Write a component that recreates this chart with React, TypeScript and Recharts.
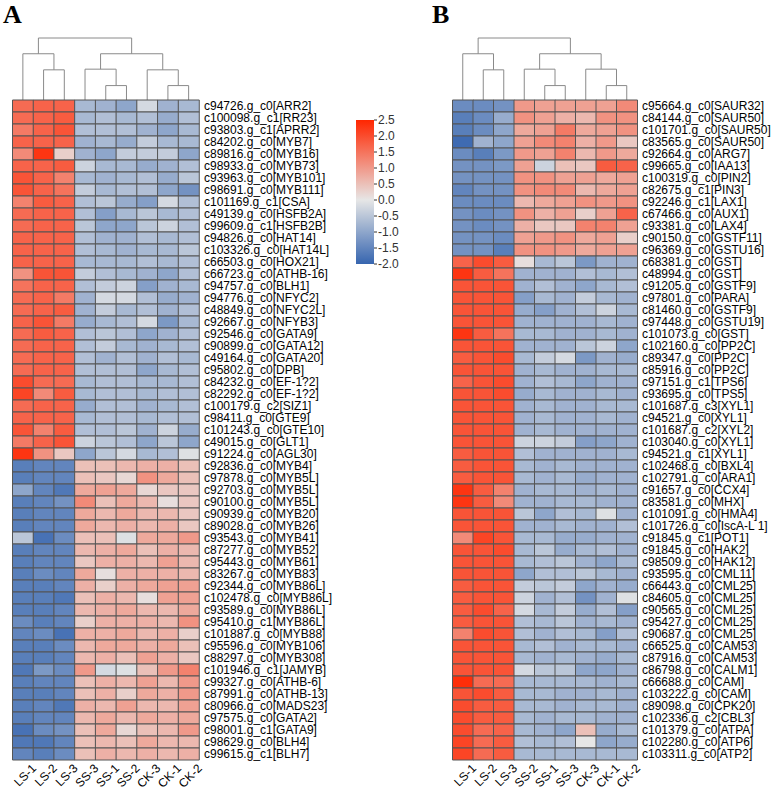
import React from "react";
import { BarChart, Bar, Cell, XAxis, YAxis, LineChart, Line } from "recharts";

const FONT = '"Liberation Sans", Arial, Helvetica, sans-serif';

const samplesA = ["LS-1", "LS-2", "LS-3", "SS-3", "SS-1", "SS-2", "CK-3", "CK-1", "CK-2"];
const samplesB = ["LS-1", "LS-2", "LS-3", "SS-2", "SS-1", "SS-3", "CK-3", "CK-1", "CK-2"];

const genesA = [
  "c94726.g_c0[ARR2]", "c100098.g_c1[RR23]", "c93803.g_c1[APRR2]", "c84202.g_c0[MYB7]",
  "c89816.g_c0[MYB16]", "c98933.g_c0[MYB73]", "c93963.g_c0[MYB101]", "c98691.g_c0[MYB111]",
  "c101169.g_c1[CSA]", "c49139.g_c0[HSFB2A]", "c99609.g_c1[HSFB2B]", "c94826.g_c0[HAT14]",
  "c103326.g_c0[HAT14L]", "c66503.g_c0[HOX21]", "c66723.g_c0[ATHB-16]", "c94757.g_c0[BLH1]",
  "c94776.g_c0[NFYC2]", "c48849.g_c0[NFYC2L]", "c92667.g_c0[NFYB3]", "c92546.g_c0[GATA9]",
  "c90899.g_c0[GATA12]", "c49164.g_c0[GATA20]", "c95802.g_c0[DPB]", "c84232.g_c0[EF-1?2]",
  "c82292.g_c0[EF-1?2]", "c100179.g_c2[SIZ1]", "c98411.g_c0[GTE9]", "c101243.g_c0[GTE10]",
  "c49015.g_c0[GLT1]", "c91224.g_c0[AGL30]", "c92836.g_c0[MYB4]", "c97878.g_c0[MYB5L]",
  "c92703.g_c0[MYB5L]", "c90100.g_c0[MYB5L]", "c90939.g_c0[MYB20]", "c89028.g_c0[MYB26]",
  "c93543.g_c0[MYB41]", "c87277.g_c0[MYB52]", "c95443.g_c0[MYB61]", "c83267.g_c0[MYB83]",
  "c92344.g_c0[MYB86L]", "c102478.g_c0[MYB86L]", "c93589.g_c0[MYB86L]", "c95410.g_c1[MYB86L]",
  "c101887.g_c0[MYB88]", "c95596.g_c0[MYB106]", "c88297.g_c0[MYB308]", "c101946.g_c1[JAMYB]",
  "c99327.g_c0[ATHB-6]", "c87991.g_c0[ATHB-13]", "c80966.g_c0[MADS23]", "c97575.g_c0[GATA2]",
  "c98001.g_c1[GATA9]", "c98629.g_c0[BLH4]", "c99615.g_c1[BLH7]",
];

const valuesA = [
  [1.6, 1.7, 1.7, -0.7, -0.8, -1.0, -0.2, -0.8, -0.7],
  [1.6, 1.7, 1.8, -0.7, -0.6, -0.7, -0.6, -0.9, -0.6],
  [1.4, 1.7, 1.9, -0.6, -0.6, -0.6, -0.8, -1.0, -0.7],
  [1.7, 1.7, 1.7, -0.8, -0.7, -0.9, -0.4, -0.7, -0.7],
  [1.2, 2.3, 0.3, -0.8, -1.0, -0.4, -0.4, -0.4, -1.0],
  [1.7, 1.7, 1.8, -0.3, -0.7, -0.7, -0.9, -0.8, -0.6],
  [1.9, 1.7, 1.3, -0.7, -0.8, -0.7, -0.6, -0.9, -0.5],
  [1.9, 1.7, 1.5, -0.4, -0.7, -0.6, -0.6, -1.0, -1.3],
  [1.3, 1.8, 1.7, -0.6, -0.5, -0.9, -1.1, -0.2, -0.6],
  [1.6, 1.7, 1.7, -0.6, -1.1, -0.7, -0.5, -0.7, -0.6],
  [1.6, 1.7, 1.7, -0.5, -1.0, -1.0, -0.5, -0.3, -0.6],
  [1.7, 1.7, 1.7, -0.6, -0.8, -0.8, -0.6, -0.7, -0.6],
  [1.7, 1.7, 1.7, -0.6, -0.7, -0.8, -0.7, -0.7, -0.5],
  [1.7, 1.7, 1.7, -0.7, -0.7, -0.7, -0.6, -0.7, -0.6],
  [1.1, 1.9, 1.9, -0.4, -0.6, -0.7, -0.8, -1.0, -0.6],
  [1.5, 1.7, 1.7, -0.6, -0.4, -0.3, -1.1, -0.8, -0.7],
  [1.6, 1.7, 1.4, -0.8, -0.2, -0.2, -0.6, -0.9, -0.8],
  [1.6, 1.7, 1.8, -0.8, -0.4, -0.7, -0.6, -0.8, -0.6],
  [1.7, 1.9, 1.4, -0.9, -0.7, -0.6, -0.2, -1.2, -0.7],
  [1.6, 1.8, 1.7, -0.6, -0.5, -0.6, -1.0, -0.8, -0.6],
  [1.6, 1.7, 1.7, -0.6, -0.4, -0.7, -0.8, -0.7, -0.6],
  [1.6, 1.7, 1.7, -0.6, -0.8, -0.6, -0.8, -0.6, -0.7],
  [1.6, 1.7, 1.7, -0.6, -0.6, -0.6, -1.0, -0.7, -0.6],
  [2.0, 1.6, 1.6, -0.7, -0.6, -0.6, -0.7, -0.7, -0.6],
  [2.1, 1.2, 1.8, -0.7, -0.6, -0.6, -0.7, -0.6, -0.6],
  [1.6, 1.7, 1.7, -0.9, -0.6, -0.6, -0.8, -0.7, -0.6],
  [1.7, 1.7, 1.7, -0.7, -0.6, -0.6, -0.7, -0.6, -0.6],
  [1.9, 1.3, 1.8, -0.6, -0.6, -0.5, -0.8, -0.3, -0.9],
  [1.4, 1.7, 1.9, -0.3, -0.5, -0.6, -1.0, -0.5, -1.0],
  [2.3, 1.1, 0.4, -1.0, -0.5, -0.2, -0.7, -0.6, -0.1],
  [-1.6, -1.5, -1.5, 0.5, 0.5, 0.6, 0.7, 0.7, 0.5],
  [-1.6, -1.5, -1.5, 0.5, 0.4, 0.2, 1.1, 0.8, 0.5],
  [-1.0, -1.5, -1.7, 0.8, 0.9, 0.8, 0.2, 0.4, 0.4],
  [-1.6, -1.5, -1.3, 1.2, 0.5, 0.8, 0.6, 0.1, 0.4],
  [-1.6, -1.5, -1.5, 0.8, 0.6, 0.8, 0.6, 0.6, 0.4],
  [-1.6, -1.5, -1.5, 0.8, 0.6, 0.7, 0.6, 0.7, 0.4],
  [-0.5, -1.8, -1.4, 0.5, 0.5, -0.1, 0.8, 0.8, 1.0],
  [-1.6, -1.5, -1.5, 0.6, 0.7, 0.8, 0.5, 0.7, 0.6],
  [-1.6, -1.5, -1.5, 0.4, 0.7, 0.7, 0.6, 0.9, 0.6],
  [-1.6, -1.4, -1.5, 0.8, 0.1, 0.7, 0.7, 0.7, 0.6],
  [-1.6, -1.6, -1.5, 0.7, 0.3, 0.7, 0.8, 0.9, 0.9],
  [-1.6, -1.6, -1.7, 0.5, 0.7, 0.6, 0.1, 0.9, 0.9],
  [-1.6, -1.6, -1.5, 0.6, 0.7, 0.8, 0.6, 0.6, 0.8],
  [-1.4, -1.6, -1.5, 0.3, 0.7, 0.7, 0.7, 0.6, 1.1],
  [-1.5, -1.4, -1.8, 0.7, 0.7, 0.8, 0.6, 0.7, 0.3],
  [-1.6, -1.6, -1.4, 0.6, 0.8, 0.8, 0.7, 0.8, 0.5],
  [-1.6, -1.6, -1.5, 0.6, 0.7, 0.5, 0.9, 0.7, 0.4],
  [-1.7, -1.2, -1.4, 1.0, -0.2, -0.1, 0.5, 1.0, 1.3],
  [-1.6, -1.5, -1.5, 0.5, 0.7, 0.6, 0.9, 0.6, 1.0],
  [-1.6, -1.6, -1.5, 0.5, 0.7, 0.3, 0.8, 0.7, 1.0],
  [-1.6, -1.5, -1.7, 0.7, 0.6, 0.9, 0.6, 0.6, 0.9],
  [-1.6, -1.5, -1.5, 0.6, 0.8, 0.6, 0.8, 0.7, 0.8],
  [-1.8, -1.4, -1.3, 0.5, 0.8, 0.2, 0.5, 0.6, 1.0],
  [-1.7, -1.7, -1.5, 0.5, 0.6, 0.5, 0.8, 0.6, 0.6],
  [-1.5, -1.6, -1.4, 0.5, 0.7, 0.6, 0.7, 0.6, 0.7],
];

const genesB = [
  "c95664.g_c0[SAUR32]", "c84144.g_c0[SAUR50]", "c101701.g_c0[SAUR50]", "c83565.g_c0[SAUR50]",
  "c92664.g_c0[ARG7]", "c99665.g_c0[IAA13]", "c100319.g_c0[PIN2]", "c82675.g_c1[PIN3]",
  "c92246.g_c1[LAX1]", "c67466.g_c0[AUX1]", "c93381.g_c0[LAX4]", "c90150.g_c0[GSTF11]",
  "c96369.g_c0[GSTU16]", "c68381.g_c0[GST]", "c48994.g_c0[GST]", "c91205.g_c0[GSTF9]",
  "c97801.g_c0[PARA]", "c81460.g_c0[GSTF9]", "c97448.g_c0[GSTU19]", "c101073.g_c0[GST]",
  "c102160.g_c0[PP2C]", "c89347.g_c0[PP2C]", "c85916.g_c0[PP2C]", "c97151.g_c1[TPS6]",
  "c93695.g_c0[TPS5]", "c101687.g_c3[XYL1]", "c94521.g_c0[XYL1]", "c101687.g_c2[XYL2]",
  "c103040.g_c0[XYL1]", "c94521.g_c1[XYL1]", "c102468.g_c0[BXL4]", "c102791.g_c0[ARA1]",
  "c91657.g_c0[CCX4]", "c83581.g_c0[MHX]", "c101091.g_c0[HMA4]", "c101726.g_c0[IscA-L 1]",
  "c91845.g_c1[POT1]", "c91845.g_c0[HAK2]", "c98509.g_c0[HAK12]", "c93595.g_c0[CML11]",
  "c66443.g_c0[CML25]", "c84605.g_c0[CML25]", "c90565.g_c0[CML25]", "c95427.g_c0[CML25]",
  "c90687.g_c0[CML25]", "c66525.g_c0[CAM53]", "c87916.g_c0[CAM53]", "c86798.g_c0[CALM1]",
  "c66688.g_c0[CAM]", "c103222.g_c0[CAM]", "c89098.g_c0[CPK20]", "c102336.g_c2[CBL3]",
  "c101379.g_c0[ATPA]", "c102280.g_c0[ATP6]", "c103311.g_c0[ATP2]",
];

const valuesB = [
  [-1.4, -1.4, -1.3, 1.0, 0.9, 0.9, 0.9, 0.9, 1.2],
  [-1.6, -1.4, -0.9, 1.1, 0.9, 0.7, 0.6, 1.1, 1.1],
  [-1.6, -1.4, -1.0, 0.8, 0.9, 1.4, 0.8, 0.9, 1.1],
  [-1.9, -0.8, -1.0, 0.9, 1.2, 1.3, 0.7, 1.0, 0.4],
  [-1.4, -1.6, -1.2, 1.0, 0.9, 1.3, 0.6, 1.0, 0.8],
  [-1.3, -1.3, -1.2, 0.9, -0.3, 0.5, 0.4, 1.8, 1.7],
  [-1.3, -1.3, -1.3, 1.1, 1.1, 0.9, 0.9, 0.8, 0.9],
  [-1.5, -1.3, -1.3, 1.1, 1.2, 1.2, 0.6, 0.8, 0.9],
  [-1.4, -1.4, -1.4, 0.6, 0.8, 0.9, 1.1, 1.0, 1.1],
  [-1.3, -1.4, -1.3, 1.1, 0.7, 0.9, 0.3, 0.9, 1.7],
  [-1.3, -1.4, -1.3, 0.7, 0.4, 0.4, 1.3, 1.3, 0.9],
  [-1.3, -1.3, -1.4, 0.9, 1.0, 1.1, 0.8, 0.9, 0.3],
  [-1.3, -1.3, -1.6, 1.1, 1.1, 1.0, 0.8, 0.9, 0.9],
  [1.7, 2.0, 1.8, 0.1, -0.7, -0.5, -1.2, -0.8, -0.8],
  [2.3, 1.8, 1.5, -0.8, -0.8, -0.8, -0.6, -0.7, -0.6],
  [1.9, 1.9, 1.9, -0.8, -0.6, -0.8, -1.0, -0.7, -0.6],
  [1.9, 1.9, 1.9, -1.1, -0.7, -0.8, -0.4, -0.7, -0.8],
  [1.9, 1.9, 1.9, -0.9, -1.1, -0.8, -0.6, -0.3, -0.7],
  [1.9, 1.9, 1.9, -0.8, -0.8, -0.8, -0.8, -0.7, -0.8],
  [2.3, 1.8, 1.5, -0.7, -0.7, -0.8, -0.8, -0.7, -0.8],
  [1.9, 1.9, 1.9, -0.8, -0.8, -0.8, -0.5, -0.3, -1.0],
  [1.8, 1.9, 2.0, -0.7, -0.4, -0.2, -1.2, -0.8, -0.9],
  [1.9, 1.9, 1.9, -0.8, -0.7, -0.8, -0.8, -0.7, -0.7],
  [1.7, 1.9, 2.0, -0.8, -0.6, -0.7, -1.0, -0.8, -0.8],
  [1.9, 1.9, 2.0, -0.9, -0.7, -0.8, -0.8, -0.7, -0.8],
  [1.9, 1.9, 1.9, -0.8, -0.7, -0.8, -0.8, -0.7, -0.7],
  [1.9, 1.9, 1.9, -0.8, -0.7, -0.8, -0.8, -0.7, -0.8],
  [1.9, 1.9, 1.9, -0.8, -0.7, -0.8, -0.8, -0.8, -0.8],
  [1.9, 1.9, 1.9, -0.3, -0.3, -0.4, -1.1, -1.0, -0.8],
  [1.8, 1.9, 1.9, -0.6, -0.8, -0.8, -0.8, -0.8, -0.7],
  [1.8, 1.9, 1.9, -0.7, -0.8, -0.7, -0.8, -0.8, -0.8],
  [1.8, 1.9, 1.9, -0.7, -0.8, -0.7, -0.9, -0.8, -0.8],
  [2.3, 1.8, 1.3, -0.8, -0.7, -0.7, -0.8, -0.7, -0.8],
  [2.3, 1.8, 1.2, -0.8, -0.8, -0.7, -0.7, -0.8, -0.8],
  [1.9, 1.9, 1.9, -0.5, -1.0, -0.6, -0.7, -0.1, -0.8],
  [1.9, 1.9, 1.9, -0.8, -0.8, -0.7, -0.8, -0.8, -0.6],
  [1.2, 2.1, 1.9, -0.7, -0.7, -0.9, -0.9, -0.8, -0.8],
  [1.9, 1.9, 2.0, -0.7, -0.5, -0.9, -0.7, -0.6, -0.8],
  [1.9, 1.9, 1.9, -0.7, -0.6, -0.5, -0.8, -1.0, -0.7],
  [1.9, 1.9, 1.9, -1.0, -0.6, -0.6, -0.5, -0.7, -0.8],
  [1.8, 1.9, 1.9, -0.4, -0.5, -0.4, -1.0, -0.8, -0.9],
  [1.8, 1.9, 1.9, -0.3, -0.8, -0.6, -1.3, -0.8, -0.1],
  [1.8, 2.0, 1.7, -0.2, -0.7, -0.4, -0.9, -0.6, -1.1],
  [1.8, 1.9, 1.9, -0.6, -0.7, -0.5, -0.8, -0.7, -0.8],
  [1.3, 2.0, 1.9, -0.6, -0.8, -0.6, -0.7, -1.1, -0.6],
  [1.9, 1.9, 1.9, -0.7, -0.6, -0.8, -0.7, -0.7, -0.8],
  [1.9, 1.9, 1.9, -0.7, -0.8, -0.7, -0.8, -0.9, -0.7],
  [1.9, 1.9, 1.9, -0.2, -0.5, -0.5, -1.0, -1.0, -0.8],
  [2.4, 1.6, 1.6, -0.7, -0.7, -0.7, -0.7, -0.8, -0.7],
  [1.9, 2.0, 1.8, -0.7, -0.7, -0.8, -0.8, -0.7, -0.8],
  [2.0, 1.8, 1.8, -0.7, -0.7, -0.8, -0.7, -0.7, -0.8],
  [2.0, 1.8, 1.8, -0.7, -0.8, -0.7, -0.7, -0.8, -0.8],
  [2.0, 1.6, 1.7, -0.7, -0.8, -1.0, 0.5, -0.9, -0.7],
  [2.1, 1.6, 1.8, -0.6, -0.7, -0.6, 0.0, -1.0, -0.9],
  [2.1, 1.6, 1.8, -0.7, -0.7, -0.7, -0.7, -0.7, -0.7],
];

// dendrogram merges: a/b = leaf index (0-8) or earlier merge (9+), h = merge height
const treeA = [
  { a: 1, b: 2, h: 90 },
  { a: 0, b: 9, h: 138 },
  { a: 4, b: 5, h: 43 },
  { a: 3, b: 11, h: 92 },
  { a: 7, b: 8, h: 43 },
  { a: 6, b: 13, h: 90 },
  { a: 12, b: 14, h: 138 },
  { a: 10, b: 15, h: 185 },
];
const treeB = [
  { a: 1, b: 2, h: 90 },
  { a: 0, b: 9, h: 138 },
  { a: 4, b: 5, h: 43 },
  { a: 3, b: 11, h: 92 },
  { a: 7, b: 8, h: 43 },
  { a: 6, b: 13, h: 92 },
  { a: 12, b: 14, h: 138 },
  { a: 10, b: 15, h: 185 },
];

const legendTicks = [-2, -1.5, -1, -0.5, 0, 0.5, 1, 1.5, 2, 2.5];
const LEG_MIN = -2;
const LEG_MAX = 2.5;

const LOW = [54, 101, 175];
const MID = [230, 230, 230];
const HIGH = [255, 38, 0];

function heatColor(v: number): string {
  let c: number[];
  if (v >= 0) {
    const t = Math.min(v / LEG_MAX, 1);
    c = MID.map((m, i) => m + (HIGH[i] - m) * t);
  } else {
    const t = Math.min(-v / -LEG_MIN, 1);
    c = MID.map((m, i) => m + (LOW[i] - m) * t);
  }
  return `rgb(${c.map((x) => Math.round(x)).join(",")})`;
}

function makeRowTick(genes: string[]) {
  return (p: any) => (
    <text
      x={p.x}
      y={p.y}
      dy="0.36em"
      textAnchor="start"
      fontSize={12}
      fontFamily={FONT}
      fill="#000"
    >
      {genes[Math.floor(p.payload.value)]}
    </text>
  );
}

function ColTick(p: any) {
  return (
    <g transform={`translate(${p.x + 8},${p.y}) rotate(-45)`}>
      <text x={0} y={0} dy="0.72em" textAnchor="end" fontSize={12} fontFamily={FONT} fill="#000">
        {p.payload.value}
      </text>
    </g>
  );
}

function LegendTick(p: any) {
  return (
    <text x={p.x} y={p.y} dy="0.36em" textAnchor="start" fontSize={12} fontFamily={FONT} fill="#333">
      {Number(p.payload.value).toFixed(1)}
    </text>
  );
}

function Heatmap(props: {
  genes: string[];
  values: number[][];
  samples: string[];
  width: number;
  plotWidth: number;
}) {
  const { genes, values, samples, width, plotWidth } = props;
  const data = samples.map((s) => {
    const o: any = { name: s };
    genes.forEach((_, i) => {
      o["r" + i] = 1;
    });
    return o;
  });
  const ticks = genes.map((_, i) => i + 0.5);
  const labelW = 140;
  return (
    <BarChart
      width={width}
      height={790}
      data={data}
      margin={{ top: 100, left: 12.5, right: width - 12.5 - plotWidth - labelW, bottom: 0 }}
      barCategoryGap={0}
      barGap={0}
    >
      <XAxis
        dataKey="name"
        type="category"
        interval={0}
        tickLine={false}
        axisLine={false}
        height={30}
        tickSize={2}
        tickMargin={1}
        tick={ColTick}
      />
      <YAxis
        type="number"
        domain={[0, genes.length]}
        reversed
        orientation="right"
        ticks={ticks}
        interval={0}
        width={labelW}
        tickLine={false}
        tickSize={3}
        tickMargin={2}
        axisLine={false}
        tick={makeRowTick(genes)}
      />
      {genes.map((g, i) => (
        <Bar
          key={g + i}
          dataKey={"r" + i}
          stackId="s"
          isAnimationActive={false}
          stroke="#555"
          strokeWidth={1}
        >
          {samples.map((s, j) => (
            <Cell key={s} fill={heatColor(values[i][j])} />
          ))}
        </Bar>
      ))}
    </BarChart>
  );
}

function Dendrogram(props: { tree: { a: number; b: number; h: number }[]; width: number; plotWidth: number }) {
  const { tree, width, plotWidth } = props;
  const pos: { x: number; h: number }[] = [];
  for (let i = 0; i < 9; i++) pos.push({ x: i + 0.5, h: 0 });
  const links = tree.map((m) => {
    const A = pos[m.a];
    const B = pos[m.b];
    pos.push({ x: (A.x + B.x) / 2, h: m.h });
    return [
      { x: A.x, y: A.h },
      { x: A.x, y: m.h },
      { x: B.x, y: m.h },
      { x: B.x, y: B.h },
    ];
  });
  return (
    <LineChart
      width={width}
      height={101}
      margin={{ top: 38, left: 12.5, right: width - 12.5 - plotWidth, bottom: 1 }}
    >
      <XAxis type="number" dataKey="x" domain={[0, 9]} hide />
      <YAxis type="number" domain={[0, 185]} hide />
      {links.map((d, i) => (
        <Line
          key={i}
          data={d}
          dataKey="y"
          type="linear"
          stroke="#8a8a8a"
          strokeWidth={1}
          dot={false}
          activeDot={false}
          isAnimationActive={false}
        />
      ))}
    </LineChart>
  );
}

function ColorBar() {
  const stops = [];
  for (let k = 0; k <= 18; k++) {
    const v = LEG_MAX - ((LEG_MAX - LEG_MIN) * k) / 18;
    stops.push(<stop key={k} offset={`${(k / 18) * 100}%`} stopColor={heatColor(v)} />);
  }
  return (
    <BarChart
      width={75}
      height={300}
      data={[{ name: "scale", range: [LEG_MIN, LEG_MAX] }]}
      margin={{ top: 120, left: 16, right: 0, bottom: 36 }}
      barCategoryGap={0}
    >
      <defs>
        <linearGradient id="cbar" x1="0" y1="0" x2="0" y2="1">
          {stops}
        </linearGradient>
      </defs>
      <XAxis dataKey="name" hide />
      <YAxis
        type="number"
        domain={[LEG_MIN, LEG_MAX]}
        ticks={legendTicks}
        interval={0}
        orientation="right"
        width={41}
        axisLine={false}
        tickSize={3}
        tickMargin={1}
        stroke="#333"
        tick={LegendTick}
      />
      <Bar dataKey="range" fill="url(#cbar)" isAnimationActive={false} />
    </BarChart>
  );
}

export default function App() {
  const letter: React.CSSProperties = {
    position: "absolute",
    top: 0,
    fontFamily: '"Liberation Serif", "Times New Roman", serif',
    fontWeight: "bold",
    fontSize: 26,
    lineHeight: "30px",
    color: "#000",
  };
  return (
    <div style={{ position: "absolute", left: 0, top: 0, width: 777, height: 790, background: "#fff", overflow: "hidden" }}>
      <div style={{ ...letter, left: 3 }}>A</div>
      <div style={{ ...letter, left: 432 }}>B</div>
      <div style={{ position: "absolute", left: 0, top: 0 }}>
        <Dendrogram tree={treeA} width={340} plotWidth={186.5} />
      </div>
      <div style={{ position: "absolute", left: 0, top: 0 }}>
        <Heatmap genes={genesA} values={valuesA} samples={samplesA} width={340} plotWidth={186.5} />
      </div>
      <div style={{ position: "absolute", left: 340, top: 0 }}>
        <ColorBar />
      </div>
      <div style={{ position: "absolute", left: 440, top: 0 }}>
        <Dendrogram tree={treeB} width={337} plotWidth={184.5} />
      </div>
      <div style={{ position: "absolute", left: 440, top: 0 }}>
        <Heatmap genes={genesB} values={valuesB} samples={samplesB} width={337} plotWidth={184.5} />
      </div>
    </div>
  );
}
